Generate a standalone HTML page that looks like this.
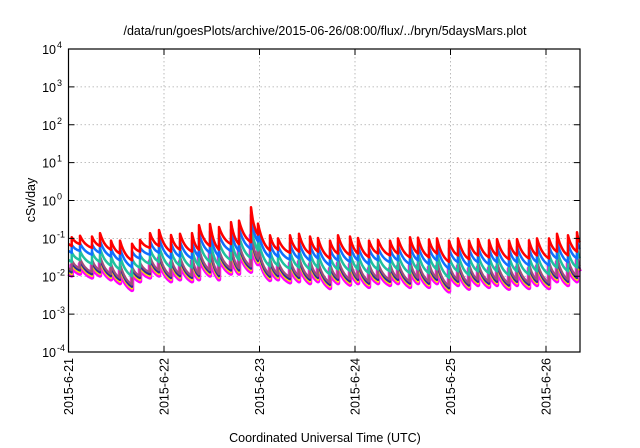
<!DOCTYPE html>
<html><head><meta charset="utf-8"><style>
html,body{margin:0;padding:0;background:#fff;width:640px;height:448px;overflow:hidden}
svg{display:block;font-family:"Liberation Sans",sans-serif}
</style></head><body>
<svg id="chart" width="640" height="448" viewBox="0 0 640 448" xmlns="http://www.w3.org/2000/svg">
<text x="325" y="35" font-size="12.5" text-anchor="middle" fill="#000">/data/run/goesPlots/archive/2015-06-26/08:00/flux/../bryn/5daysMars.plot</text>
<g id="grid"></g>
<g id="series"></g>
<rect x="68.5" y="49" width="511.5" height="303" fill="none" stroke="#000" stroke-width="1.2"/>
<g id="axes"></g>
<text transform="translate(35,200) rotate(-90)" font-size="12.5" text-anchor="middle">cSv/day</text>
<text x="325" y="442" font-size="12.5" text-anchor="middle">Coordinated Universal Time (UTC)</text>
</svg>
<script>
const yTickExps = [4,3,2,1,0,-1,-2,-3,-4];
const xTickLabels = ["2015-6-21","2015-6-22","2015-6-23","2015-6-24","2015-6-25","2015-6-26"];
const spikeDays = [0.034,0.120,0.246,0.330,0.445,0.539,0.665,0.749,0.853,0.948,1.073,1.168,1.293,1.366,1.482,1.576,1.702,1.785,1.911,1.984,2.110,2.194,2.319,2.414,2.529,2.613,2.738,2.822,2.948,3.031,3.147,3.241,3.366,3.450,3.576,3.660,3.775,3.859,3.984,4.079,4.194,4.288,4.403,4.487,4.613,4.696,4.822,4.906,5.031,5.115,5.230,5.325];
const redPeaks = [-0.97,-0.93,-0.95,-0.86,-1.06,-1.06,-1.14,-1.04,-0.86,-0.78,-0.91,-0.88,-0.86,-0.65,-0.62,-0.70,-0.57,-0.53,-0.18,-0.61,-0.92,-1.0,-0.92,-0.88,-0.95,-0.99,-1.06,-0.92,-0.95,-0.99,-1.06,-1.04,-1.06,-1.0,-0.97,-0.98,-1.03,-1.0,-1.06,-1.0,-1.06,-1.02,-1.05,-1.02,-1.06,-1.02,-1.05,-1.0,-1.0,-0.88,-0.92,-0.84];
const redTroughs = [-1.2,-1.15,-1.25,-1.2,-1.3,-1.4,-1.58,-1.35,-1.25,-1.2,-1.35,-1.3,-1.35,-1.3,-1.2,-1.3,-1.15,-1.15,-1.1,-0.9,-1.32,-1.3,-1.38,-1.35,-1.4,-1.35,-1.53,-1.4,-1.44,-1.4,-1.5,-1.4,-1.45,-1.4,-1.5,-1.4,-1.5,-1.4,-1.62,-1.45,-1.55,-1.45,-1.5,-1.45,-1.55,-1.45,-1.53,-1.45,-1.53,-1.35,-1.45,-1.35];
const redEnd = -1.1;
const seriesNames = ["magenta","yellow","navy","purple","teal","blue","red"];
const seriesColors = ["#ff00ff","#ffe000","#2a2a9a","#a0507a","#20c0a0","#1070ff","#ff0000"];
const seriesWidths = [4.5,2.5,2.2,2.2,2.5,2.5,2.5];
const peakOffsets = [-0.74,-0.70,-0.66,-0.60,-0.40,-0.20,0];
const troughOffsets = [-0.78,-0.74,-0.70,-0.64,-0.42,-0.18,0];

const X0=68.5,X1=580,PX_PER_DAY=95.5,Y_TOP=49,Y_BOT=352;
const xScale=d=>X0+d*PX_PER_DAY;
const yScale=lg=>Y_TOP+(4-lg)*(Y_BOT-Y_TOP)/8;
const NS="http://www.w3.org/2000/svg";
const grid=document.getElementById('grid'),axes=document.getElementById('axes'),sg=document.getElementById('series');
function mk(tag,attrs,parent){const e=document.createElementNS(NS,tag);for(const k in attrs)e.setAttribute(k,attrs[k]);parent.appendChild(e);return e;}

yTickExps.forEach(ex=>{
  const y=yScale(ex);
  if(ex<4&&ex>-4){const g=mk('line',{x1:X0,x2:X1,y1:y,y2:y,stroke:'#aaa','stroke-width':0.8,'stroke-dasharray':'1.5,2.5'},grid);
  
  }
  const t1=mk('line',{x1:X0,x2:X0+6,y1:y,y2:y,stroke:'#000','stroke-width':1},axes);
  
  
  const t2=mk('line',{x1:X1-6,x2:X1,y1:y,y2:y,stroke:'#000','stroke-width':1},axes);
  
  
  const tx=mk('text',{x:56,y:y+5,'font-size':12.5,'text-anchor':'end'},axes);
  
  
  tx.appendChild(document.createTextNode('10'));
  const sup=mk('tspan',{x:57,dy:-6,'font-size':9,'text-anchor':'start'},tx);
  sup.textContent=String(ex);
});
xTickLabels.forEach((lab,i)=>{
  const x=xScale(i);
  if(i>0){const g=mk('line',{x1:x,x2:x,y1:Y_TOP,y2:Y_BOT,stroke:'#aaa','stroke-width':0.8,'stroke-dasharray':'1.5,2.5'},grid);
  
  }
  const t1=mk('line',{x1:x,x2:x,y1:Y_BOT-6,y2:Y_BOT,stroke:'#000','stroke-width':1},axes);
  
  
  const t2=mk('line',{x1:x,x2:x,y1:Y_TOP,y2:Y_TOP+6,stroke:'#000','stroke-width':1},axes);
  
  
  const tx=mk('text',{transform:`translate(${x+4.5},358) rotate(-90)`,'font-size':12.5,'text-anchor':'end'},axes);
  
  
  tx.textContent=lab;
});
const K=1.8,E=Math.exp(-K);
const decay=f=>(Math.exp(-K*f)-E)/(1-E);
const endDay=(X1-X0)/PX_PER_DAY;
seriesNames.forEach((nm,s)=>{
  const pts=[];
  pts.push([xScale(0),yScale(redTroughs[0]+troughOffsets[s]+0.05)]);
  pts.push([xScale(spikeDays[0]),yScale(redTroughs[0]+troughOffsets[s])]);
  for(let i=0;i<spikeDays.length;i++){
    const t0=spikeDays[i],t1=i+1<spikeDays.length?spikeDays[i+1]:endDay;
    const P=redPeaks[i]+peakOffsets[s];
    const T=(i+1<spikeDays.length?redTroughs[i+1]:redEnd)+troughOffsets[s];
    for(let k=0;k<=8;k++){const f=k/8;pts.push([xScale(t0+(t1-t0)*f),yScale(T+(P-T)*decay(f))]);}
  }
  const p=mk('polyline',{points:pts.map(p=>p[0].toFixed(1)+','+p[1].toFixed(1)).join(' '),fill:'none',stroke:seriesColors[s],'stroke-width':seriesWidths[s],'stroke-linejoin':'round'},sg);
  
  
});
</script>
</body></html>
